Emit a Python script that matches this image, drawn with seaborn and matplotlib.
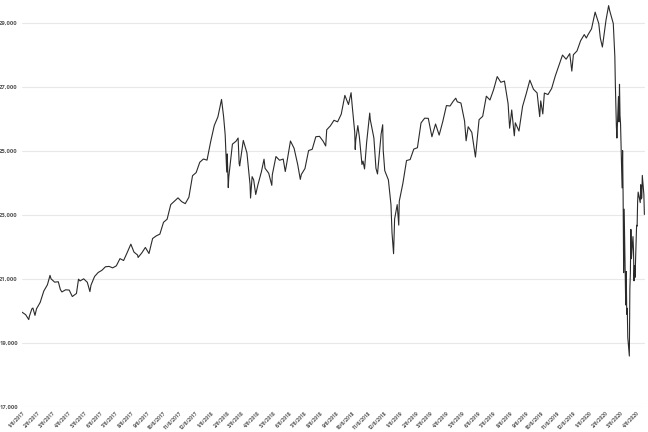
import pandas as pd
import matplotlib.pyplot as plt
import matplotlib.dates as mdates
from matplotlib.ticker import FuncFormatter
import seaborn as sns

#%% closing values
dates = [
    "2017-01-06", "2017-01-13", "2017-01-19", "2017-01-20", "2017-01-25", "2017-01-27", "2017-01-31",
    "2017-02-03", "2017-02-10", "2017-02-17", "2017-02-24", "2017-03-01", "2017-03-03", "2017-03-10",
    "2017-03-17", "2017-03-21", "2017-03-24", "2017-03-31", "2017-04-07", "2017-04-13", "2017-04-21",
    "2017-04-25", "2017-04-28", "2017-05-05", "2017-05-12", "2017-05-17", "2017-05-19", "2017-05-26",
    "2017-06-02", "2017-06-09", "2017-06-16", "2017-06-23", "2017-06-30", "2017-07-07", "2017-07-14",
    "2017-07-21", "2017-07-28", "2017-08-04", "2017-08-10", "2017-08-17", "2017-08-18", "2017-08-25",
    "2017-09-01", "2017-09-08", "2017-09-15", "2017-09-22", "2017-09-29", "2017-10-06", "2017-10-13",
    "2017-10-20", "2017-10-27", "2017-11-03", "2017-11-10", "2017-11-17", "2017-11-24", "2017-12-01",
    "2017-12-08", "2017-12-15", "2017-12-22", "2017-12-29",
    "2018-01-05", "2018-01-12", "2018-01-19", "2018-01-26", "2018-01-30", "2018-02-02", "2018-02-05",
    "2018-02-06", "2018-02-08", "2018-02-09", "2018-02-16", "2018-02-23", "2018-02-27", "2018-03-01",
    "2018-03-02", "2018-03-09", "2018-03-16", "2018-03-22", "2018-03-23", "2018-03-26", "2018-03-29",
    "2018-04-02", "2018-04-06", "2018-04-13", "2018-04-18", "2018-04-20", "2018-04-27", "2018-05-03",
    "2018-05-04", "2018-05-11", "2018-05-18", "2018-05-25", "2018-05-29", "2018-06-01", "2018-06-08",
    "2018-06-15", "2018-06-22", "2018-06-27", "2018-06-29", "2018-07-06", "2018-07-13", "2018-07-20",
    "2018-07-27", "2018-08-03", "2018-08-10", "2018-08-15", "2018-08-17", "2018-08-24", "2018-08-31",
    "2018-09-07", "2018-09-14", "2018-09-21", "2018-09-28", "2018-10-03", "2018-10-05", "2018-10-10",
    "2018-10-11", "2018-10-12", "2018-10-16", "2018-10-19", "2018-10-24", "2018-10-26", "2018-10-29",
    "2018-11-02", "2018-11-08", "2018-11-09", "2018-11-16", "2018-11-20", "2018-11-23", "2018-11-30",
    "2018-12-03", "2018-12-04", "2018-12-07", "2018-12-14", "2018-12-19", "2018-12-21", "2018-12-24",
    "2018-12-26", "2018-12-28", "2018-12-31",
    "2019-01-03", "2019-01-04", "2019-01-11", "2019-01-18", "2019-01-25", "2019-02-01", "2019-02-08",
    "2019-02-15", "2019-02-22", "2019-03-01", "2019-03-08", "2019-03-15", "2019-03-22", "2019-03-29",
    "2019-04-05", "2019-04-12", "2019-04-18", "2019-04-23", "2019-04-26", "2019-05-03", "2019-05-10",
    "2019-05-13", "2019-05-17", "2019-05-24", "2019-05-31", "2019-06-07", "2019-06-14", "2019-06-21",
    "2019-06-28", "2019-07-05", "2019-07-12", "2019-07-19", "2019-07-26", "2019-08-02", "2019-08-05",
    "2019-08-09", "2019-08-14", "2019-08-16", "2019-08-23", "2019-08-30", "2019-09-06", "2019-09-13",
    "2019-09-20", "2019-09-27", "2019-10-02", "2019-10-04", "2019-10-08", "2019-10-11", "2019-10-18",
    "2019-10-25", "2019-11-01", "2019-11-08", "2019-11-15", "2019-11-22", "2019-11-29", "2019-12-03",
    "2019-12-06", "2019-12-13", "2019-12-20", "2019-12-27", "2019-12-31",
    "2020-01-03", "2020-01-10", "2020-01-17", "2020-01-24", "2020-01-27", "2020-01-31", "2020-02-07",
    "2020-02-12", "2020-02-14", "2020-02-21", "2020-02-24", "2020-02-25", "2020-02-27", "2020-02-28",
    "2020-03-02", "2020-03-03", "2020-03-04", "2020-03-05", "2020-03-06", "2020-03-09", "2020-03-10",
    "2020-03-11", "2020-03-12", "2020-03-13", "2020-03-16", "2020-03-17", "2020-03-18", "2020-03-19",
    "2020-03-20", "2020-03-23", "2020-03-24", "2020-03-25", "2020-03-26", "2020-03-27", "2020-03-30",
    "2020-03-31", "2020-04-01", "2020-04-02", "2020-04-03", "2020-04-06", "2020-04-07", "2020-04-08",
    "2020-04-09", "2020-04-13", "2020-04-14", "2020-04-15", "2020-04-16", "2020-04-17", "2020-04-20",
    "2020-04-21",
]
closes = [
    19964, 19885, 19732, 19827, 20069, 20093, 19864,
    20071, 20269, 20624, 20822, 21115, 21006, 20903,
    20915, 20669, 20597, 20663, 20656, 20453, 20548,
    20997, 20941, 21007, 20897, 20607, 20805, 21080,
    21206, 21272, 21384, 21395, 21350, 21414, 21638,
    21580, 21830, 22092, 21844, 21750, 21675, 21814,
    21988, 21798, 22268, 22350, 22405, 22774, 22872,
    23329, 23434, 23539, 23422, 23358, 23558, 24231,
    24329, 24652, 24754, 24719,
    25296, 25803, 26072, 26617, 26077, 25521, 24346,
    24913, 23860, 24191, 25219, 25310, 25410, 24609,
    24538, 25336, 24946, 23958, 23533, 24202, 24103,
    23644, 23933, 24360, 24748, 24463, 24311, 23930,
    24263, 24831, 24715, 24753, 24362, 24635, 25317,
    25090, 24581, 24117, 24271, 24456, 25019, 25058,
    25451, 25463, 25313, 25162, 25669, 25790, 25965,
    25917, 26155, 26744, 26458, 26828, 26447, 25599,
    25053, 25340, 25798, 25444, 24583, 24688, 24443,
    25271, 26191, 25989, 25413, 24465, 24286, 25538,
    25826, 25027, 24389, 24101, 23324, 22445, 21792,
    22878, 23062, 23327,
    22686, 23433, 23996, 24706, 24737, 25064, 25106,
    25883, 26031, 26026, 25450, 25849, 25502, 25929,
    26425, 26412, 26559, 26656, 26543, 26505, 25942,
    25324, 25764, 25586, 24815, 25984, 26090, 26719,
    26600, 26922, 27332, 27154, 27192, 26485, 25718,
    26287, 25479, 25886, 25629, 26403, 26797, 27220,
    26935, 26820, 26079, 26573, 26164, 26817, 26770,
    26958, 27347, 27681, 28005, 27876, 28051, 27503,
    28015, 28135, 28455, 28645, 28538,
    28634, 28824, 29348, 28990, 28535, 28256, 29103,
    29551, 29398, 28992, 27961, 27081, 25767, 25409,
    26703, 25917, 27091, 26122, 25865, 23851, 25018,
    23553, 21200, 23186, 20189, 21237, 19899, 20087,
    19174, 18592, 20705, 21201, 22552, 21637, 22328,
    21917, 20944, 21413, 21053, 22680, 22654, 23434,
    23720, 23390, 23950, 23505, 23538, 24242, 23650,
    23019,
]
y_ticks = [17000, 19000, 21000, 23000, 25000, 27000, 29000]
#%%

data = pd.DataFrame({"date": pd.to_datetime(dates), "close": closes})

sns.set_theme(style="whitegrid")
plt.rcParams['font.family'] = ['Open Sans', 'DejaVu Sans']

fig = plt.figure(figsize=(6.48, 4.32), dpi=100)
ax = fig.add_axes([0.034, 0.058, 0.962, 0.94])

sns.lineplot(data=data, x="date", y="close", color="#2b2b2b", linewidth=0.8, ax=ax)

ax.set_ylim(17000, 29700)
ax.set_xlim(pd.Timestamp("2017-01-06"), pd.Timestamp("2020-04-23"))
ax.set_yticks(y_ticks)
ax.yaxis.set_major_formatter(FuncFormatter(lambda v, p: f"{int(v):,}"))
ax.xaxis.set_major_locator(mdates.MonthLocator(bymonthday=6))
ax.xaxis.set_major_formatter(FuncFormatter(
    lambda v, p: f"{mdates.num2date(v).month}/{mdates.num2date(v).day}/{mdates.num2date(v).year}"))

ax.grid(True, axis="y", color="#e8e8e8", linewidth=0.8)
ax.grid(False, axis="x")
for s in ax.spines.values():
    s.set_visible(False)

ax.tick_params(axis="y", length=0, pad=3, labelsize=4.2, labelcolor="#555555")
ax.tick_params(axis="x", length=2, width=0.6, color="#dddddd", pad=0.5,
               labelsize=3.5, labelcolor="#555555", labelrotation=45)
for lbl in ax.get_xticklabels():
    lbl.set_ha("right")
    lbl.set_rotation_mode("anchor")
    lbl.set_fontweight("bold")
for lbl in ax.get_yticklabels():
    lbl.set_fontweight("bold")

ax.set_xlabel("")
ax.set_ylabel("")

fig.savefig("out.png", dpi=100)
